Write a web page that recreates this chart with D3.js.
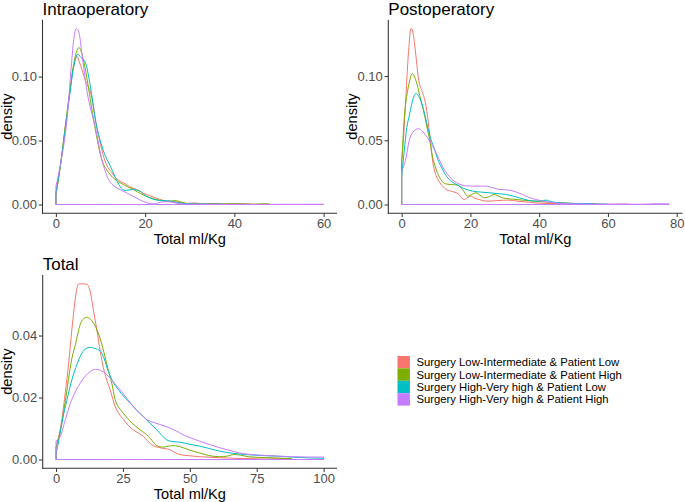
<!DOCTYPE html>
<html>
<head>
<meta charset="utf-8">
<script src="https://cdn.jsdelivr.net/npm/d3@7"></script>
<style>
  body { margin: 0; background: #fff; }
  svg { display: block; font-family: "Liberation Sans", Arial, sans-serif; }
</style>
</head>
<body>
<svg id="chart" width="685" height="502"></svg>
<script>
// ---------------- DATA ----------------
const categories = [
  "Surgery Low-Intermediate & Patient Low",
  "Surgery Low-Intermediate & Patient High",
  "Surgery High-Very high & Patient Low",
  "Surgery High-Very high & Patient High"
];
const colors = ["#F8766D", "#7CAE00", "#00BFC4", "#C77CFF"];

const panelTitles = ["Intraoperatory", "Postoperatory", "Total"];
const xAxisTitle = "Total ml/Kg";
const yAxisTitle = "density";

const intraXTicks = [0, 20, 40, 60];
const postXTicks = [0, 20, 40, 60, 80];
const totalXTicks = [0, 25, 50, 75, 100];
const intraYTicks = [0, 0.05, 0.10];
const postYTicks = [0, 0.05, 0.10];
const totalYTicks = [0, 0.02, 0.04];

// Intraoperatory densities [x, density]
const intraLowLow = [[0,0.008],[1,0.03],[2,0.058],[3,0.085],[4,0.108],[4.7,0.116],[5.2,0.112],[6.6,0.097],[8.1,0.083],[9,0.064],[10,0.047],[11,0.034],[12.5,0.025],[14,0.019],[15.1,0.017],[16.5,0.014],[18.1,0.0117],[19.5,0.009],[21,0.007],[23.3,0.004],[25,0.0025],[27,0.002],[29,0.0008],[31,0.0012],[33,0.0005],[36,0.0008],[38,0.0002],[41,0.0006],[44,0.0002]];
const intraLowHigh = [[0,0.007],[1,0.03],[2,0.058],[3,0.085],[4,0.11],[4.8,0.121],[5.2,0.1227],[5.8,0.118],[6.8,0.102],[7.5,0.087],[8.4,0.067],[9.2,0.052],[9.9,0.04],[10.6,0.032],[11.4,0.027],[12.8,0.021],[14.4,0.017],[16,0.014],[17.4,0.0117],[19,0.0085],[21,0.0055],[23,0.0035],[25,0.0025],[26.7,0.003],[28.5,0.0015],[30,0.0005],[34,0.0003],[40,0.0007],[44,0.0002],[47,0.0007],[48,0.0003]];
const intraHighLow = [[0,0.009],[1,0.03],[2,0.056],[3,0.083],[4,0.108],[4.9,0.1175],[5.6,0.115],[6.6,0.111],[7.7,0.093],[8.8,0.067],[10.3,0.0457],[11.2,0.037],[12.2,0.03],[13.2,0.022],[14.4,0.014],[15.5,0.011],[17.3,0.0117],[18.9,0.0104],[20,0.007],[21.1,0.0052],[22.5,0.0035],[24,0.003],[25.5,0.0028],[27,0.0015],[29,0.0008],[32,0.0004],[37,0.0002]];
const intraHighHigh = [[0,0.014],[1,0.031],[2.5,0.067],[3.5,0.11],[4,0.129],[4.6,0.1376],[5.2,0.134],[5.8,0.119],[7,0.088],[8.8,0.061],[10.3,0.035],[11.8,0.0196],[13,0.0145],[14.4,0.0117],[16.6,0.0078],[18.9,0.0035],[20.5,0.0012],[22,0.0005],[23.5,0.0018],[25,0.0022],[26.5,0.0015],[28,0.0004],[35,0.0001],[45,0.0001],[60,0.0002]];

// Postoperatory densities [x, density]
const postLowLow = [[0,0.035],[0.5,0.05],[1.05,0.075],[2,0.119],[2.7,0.137],[3.2,0.135],[3.7,0.126],[4.15,0.1156],[4.65,0.103],[5.1,0.095],[6.1,0.087],[7.1,0.0766],[8,0.058],[8.5,0.045],[9,0.034],[9.5,0.027],[10.5,0.0195],[11.4,0.016],[12.9,0.0117],[14.3,0.0104],[15.5,0.0095],[16.7,0.0078],[17.5,0.005],[18.2,0.0039],[19.2,0.0055],[20.1,0.0065],[21.3,0.0048],[22.6,0.0039],[24,0.0028],[25.4,0.0026],[28,0.0031],[31.2,0.0034],[34,0.0025],[37,0.0018],[40,0.001],[45,0.0007],[50,0.0004],[55,0.0005],[60,0.0002],[66,0.0003]];
const postLowHigh = [[0,0.03],[0.76,0.0675],[1.7,0.088],[2.4,0.097],[3.1,0.102],[4.2,0.096],[5.6,0.081],[6.6,0.07],[7.6,0.057],[8.3,0.048],[9,0.037],[9.7,0.03],[10.5,0.024],[11.5,0.019],[12.9,0.016],[14.5,0.0155],[16.3,0.0152],[17.7,0.0117],[19.2,0.0065],[20.4,0.0078],[21.6,0.0091],[22.8,0.0072],[24,0.0052],[25.5,0.0062],[26.9,0.0078],[28,0.0068],[29.3,0.0052],[33.2,0.0039],[36,0.0032],[39,0.0026],[44,0.0015],[48,0.0012],[52,0.0005],[55,0.0006],[57,0.0003]];
const postHighLow = [[0,0.022],[0.76,0.042],[1.5,0.06],[2.2,0.069],[2.9,0.078],[4.15,0.0865],[5,0.084],[5.6,0.0805],[6.6,0.0715],[7.5,0.061],[8.5,0.0507],[9.5,0.0435],[10.5,0.035],[11.4,0.03],[12.4,0.0247],[13.8,0.0195],[15.3,0.0165],[16.7,0.0143],[18.5,0.012],[20.6,0.0104],[23,0.0097],[25.5,0.0091],[28,0.0085],[30.3,0.0078],[32.5,0.0065],[34.2,0.0052],[36.5,0.0035],[39,0.0026],[40.5,0.0028],[42,0.0034],[43.5,0.0022],[46,0.0013],[50,0.0008],[54,0.0008],[57,0.0003],[60,0.0002]];
const postHighHigh = [[0,0.026],[1.25,0.036],[2.2,0.05],[3.2,0.056],[4.8,0.059],[6,0.057],[8,0.05],[9.5,0.043],[10.9,0.035],[12.4,0.027],[13.8,0.022],[15.3,0.018],[16.7,0.016],[18.5,0.0145],[20.6,0.0143],[24.5,0.0143],[26.5,0.013],[28.4,0.0117],[31.3,0.0112],[33.5,0.0095],[35.2,0.0078],[37,0.0055],[39,0.0039],[42.9,0.0018],[46,0.001],[50,0.0005],[55,0.0003],[60,0.0002],[65,0.0003],[70,0.0002],[74,0.0006],[77.8,0.0005]];

// Total densities [x, density]
const totalLowLow = [[0,0.004],[2,0.012],[3.5,0.022],[4.7,0.031],[5.96,0.0424],[7.2,0.052],[7.8,0.0553],[8.4,0.0566],[10,0.0567],[11.5,0.0566],[12.8,0.054],[14,0.048],[15.3,0.0415],[16.5,0.035],[17.7,0.0296],[19,0.0255],[20.2,0.0225],[22.1,0.0171],[23.5,0.0148],[25.2,0.0129],[27,0.011],[28.9,0.0096],[30.8,0.0085],[32.6,0.0075],[34,0.0062],[35.7,0.0048],[38.8,0.0038],[42.5,0.0032],[44.5,0.0022],[46.3,0.0016],[50,0.0012],[53.7,0.0009],[58,0.0007],[63.6,0.0005],[70,0.0003],[78,0.0005],[88,0.0002]];
const totalLowHigh = [[0,0.004],[2,0.011],[3.5,0.019],[5,0.028],[6,0.033],[7.2,0.037],[9,0.0435],[10,0.0452],[11.5,0.0459],[12.8,0.0453],[14,0.044],[15.3,0.0418],[16.5,0.039],[18.4,0.0328],[19.6,0.0285],[20.8,0.0247],[22.1,0.0193],[23.3,0.017],[24.6,0.0155],[26.5,0.0135],[28.3,0.0118],[31.4,0.0096],[34.5,0.0075],[36,0.006],[37.6,0.0045],[40.1,0.004],[42,0.0043],[43.8,0.0045],[45.5,0.0043],[47.5,0.0038],[50,0.003],[53.7,0.0021],[57,0.0013],[61.2,0.0009],[64,0.0011],[66.5,0.0016],[69,0.0014],[72,0.0009],[78,0.0006],[84,0.0004],[88,0.0003]];
const totalHighLow = [[0,0.002],[1,0.006],[2.2,0.012],[4,0.019],[6,0.026],[7.8,0.0307],[9.7,0.0344],[11.2,0.0358],[12.8,0.0362],[14.5,0.0358],[16.5,0.035],[18,0.0325],[19.3,0.029],[21,0.0255],[23.3,0.0225],[25.5,0.0202],[27.7,0.0182],[30,0.016],[32.6,0.0139],[35,0.0118],[37.6,0.0096],[39.5,0.0078],[41.3,0.0064],[43.5,0.0058],[46.3,0.0056],[50,0.0049],[53.7,0.0043],[57,0.0036],[61.2,0.0027],[66,0.002],[71.1,0.0016],[76,0.0013],[82.3,0.0011],[88,0.0008],[94.7,0.0005],[100,0.0004]];
const totalHighHigh = [[0,0.006],[1.6,0.0075],[3.5,0.013],[5.3,0.018],[7,0.0215],[9,0.0246],[11,0.027],[12.8,0.0284],[14.8,0.0291],[16.5,0.0288],[19,0.0273],[21.5,0.025],[23.9,0.0225],[26.5,0.0197],[28.9,0.0171],[31.4,0.0148],[33.9,0.0129],[36.3,0.012],[38.8,0.0113],[42.5,0.0102],[45,0.0092],[47.5,0.008],[50.5,0.0069],[53.7,0.0059],[57.5,0.0048],[61.2,0.0038],[65,0.0029],[68.6,0.0021],[73,0.0016],[78.6,0.0013],[83,0.0011],[88.4,0.0009],[94,0.0008],[100,0.0008]];

// ---------------- LAYOUT ----------------
const svg = d3.select("#chart");
svg.append("rect").attr("width", 685).attr("height", 502).attr("fill", "#fff");

const panels = [
  { title: panelTitles[0], series: [intraLowLow, intraLowHigh, intraHighLow, intraHighHigh],
    xTicks: intraXTicks, yTicks: intraYTicks, yFmt: d3.format(".2f"),
    left: 42.5, right: 337, top: 19.7, bottom: 213.3 },
  { title: panelTitles[1], series: [postLowLow, postLowHigh, postHighLow, postHighHigh],
    xTicks: postXTicks, yTicks: postYTicks, yFmt: d3.format(".2f"),
    left: 388.3, right: 682.5, top: 19.7, bottom: 213.3 },
  { title: panelTitles[2], series: [totalLowLow, totalLowHigh, totalHighLow, totalHighHigh],
    xTicks: totalXTicks, yTicks: totalYTicks, yFmt: d3.format(".2f"),
    left: 42.7, right: 337, top: 275, bottom: 468.3 }
];

const tickCol = "#4D4D4D";
const axisCol = "#333333";

panels.forEach(p => {
  const all = p.series.flat();
  const xmin = d3.min(all, d => d[0]), xmax = d3.max(all, d => d[0]);
  const ymax = d3.max(all, d => d[1]);
  const xr = xmax - xmin;
  const x = d3.scaleLinear().domain([xmin - 0.05 * xr, xmax + 0.05 * xr]).range([p.left, p.right]);
  const y = d3.scaleLinear().domain([-0.05 * ymax, 1.05 * ymax]).range([p.bottom, p.top]);

  const g = svg.append("g");

  // density outlines (closed polygons like ggplot geom_density)
  const area = d3.area()
    .x(d => x(d[0]))
    .y0(() => y(0))
    .y1(d => y(d[1]))
    .curve(d3.curveMonotoneX);

  p.series.forEach((s, i) => {
    g.append("path")
      .datum(s)
      .attr("d", area)
      .attr("fill", "none")
      .attr("stroke", colors[i])
      .attr("stroke-width", 1)
      .attr("stroke-linejoin", "round");
  });

  // axes
  const xAxis = d3.axisBottom(x).tickValues(p.xTicks).tickSize(3.7).tickPadding(2.5).tickFormat(d3.format("d"));
  const yAxis = d3.axisLeft(y).tickValues(p.yTicks).tickSize(3.7).tickPadding(2.5).tickFormat(p.yFmt);

  const gx = g.append("g").attr("transform", `translate(0,${p.bottom})`).call(xAxis);
  const gy = g.append("g").attr("transform", `translate(${p.left},0)`).call(yAxis);

  [gx, gy].forEach(a => {
    a.select(".domain").remove();
    a.selectAll(".tick line").attr("stroke", axisCol).attr("stroke-width", 1);
    a.selectAll(".tick text").attr("fill", tickCol).style("font-size", "13px")
      .style("font-family", "'Liberation Sans', Arial, sans-serif");
  });
  gx.selectAll(".tick text").attr("dy", "0.71em").attr("y", 5.2);
  gy.selectAll(".tick text").attr("x", -5.5);

  // axis lines
  g.append("line").attr("x1", p.left).attr("x2", p.left).attr("y1", p.top).attr("y2", p.bottom + 0.5)
    .attr("stroke", axisCol).attr("stroke-width", 1.07);
  g.append("line").attr("x1", p.left - 0.5).attr("x2", p.right).attr("y1", p.bottom).attr("y2", p.bottom)
    .attr("stroke", axisCol).attr("stroke-width", 1.07);

  // titles
  g.append("text").attr("x", p.left).attr("y", p.top - 5.2)
    .attr("fill", "#000").style("font-size", "17px").text(p.title);

  g.append("text").attr("x", (p.left + p.right) / 2).attr("y", p.bottom + 30.5)
    .attr("text-anchor", "middle").attr("fill", "#000").style("font-size", "14.6px").text(xAxisTitle);

  g.append("text")
    .attr("transform", `translate(${p.left - 31},${(p.top + p.bottom) / 2}) rotate(-90)`)
    .attr("text-anchor", "middle").attr("fill", "#000").style("font-size", "14.6px").text(yAxisTitle);
});

// ---------------- LEGEND ----------------
const lg = svg.append("g").attr("transform", "translate(397.5,356)");
const keySize = 12.4;
categories.forEach((c, i) => {
  lg.append("rect").attr("x", 0).attr("y", i * keySize).attr("width", keySize).attr("height", keySize)
    .attr("fill", colors[i]);
  lg.append("text").attr("x", keySize + 6.5).attr("y", i * keySize + keySize / 2)
    .attr("dy", "0.35em").attr("fill", "#000").style("font-size", "11.3px").text(c);
});
</script>
</body>
</html>
